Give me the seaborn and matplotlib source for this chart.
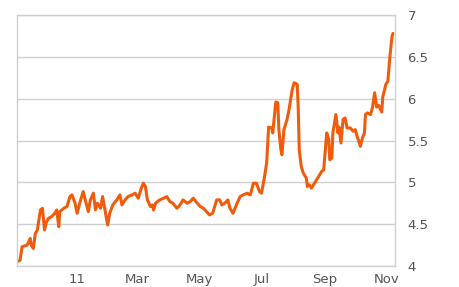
import matplotlib
matplotlib.use("Agg")
import matplotlib.pyplot as plt
import seaborn as sns
import pandas as pd

dates = [
    "2010-11-03", "2010-11-06", "2010-11-08", "2010-11-13", "2010-11-16", "2010-11-17",
    "2010-11-19", "2010-11-21", "2010-11-23", "2010-11-26", "2010-11-28", "2010-11-30",
    "2010-12-02", "2010-12-04", "2010-12-07", "2010-12-10", "2010-12-12", "2010-12-14",
    "2010-12-15", "2010-12-19", "2010-12-22", "2010-12-25", "2010-12-27", "2010-12-30",
    "2011-01-01", "2011-01-04", "2011-01-07", "2011-01-09", "2011-01-12", "2011-01-14",
    "2011-01-17", "2011-01-19", "2011-01-21", "2011-01-24", "2011-01-26", "2011-01-29",
    "2011-01-31", "2011-02-02", "2011-02-05", "2011-02-09", "2011-02-12", "2011-02-14",
    "2011-02-17", "2011-02-20", "2011-02-24", "2011-02-27", "2011-03-02", "2011-03-05",
    "2011-03-07", "2011-03-09", "2011-03-11", "2011-03-14", "2011-03-16", "2011-03-17",
    "2011-03-19", "2011-03-23", "2011-03-27", "2011-03-30", "2011-04-02", "2011-04-05",
    "2011-04-09", "2011-04-12", "2011-04-15", "2011-04-19", "2011-04-22", "2011-04-25",
    "2011-04-29", "2011-05-02", "2011-05-05", "2011-05-08", "2011-05-11", "2011-05-14",
    "2011-05-18", "2011-05-21", "2011-05-23", "2011-05-26", "2011-05-29", "2011-05-31",
    "2011-06-03", "2011-06-07", "2011-06-10", "2011-06-13", "2011-06-17", "2011-06-20",
    "2011-06-23", "2011-06-26", "2011-06-29", "2011-07-01", "2011-07-04", "2011-07-06",
    "2011-07-08", "2011-07-11", "2011-07-12", "2011-07-13", "2011-07-15", "2011-07-17",
    "2011-07-18", "2011-07-20", "2011-07-21", "2011-07-23", "2011-07-26", "2011-07-28",
    "2011-07-31", "2011-08-02", "2011-08-05", "2011-08-06", "2011-08-07", "2011-08-09",
    "2011-08-11", "2011-08-14", "2011-08-15", "2011-08-17", "2011-08-19", "2011-08-22",
    "2011-08-25", "2011-08-29", "2011-08-31", "2011-09-03", "2011-09-05", "2011-09-06",
    "2011-09-08", "2011-09-09", "2011-09-12", "2011-09-14", "2011-09-15", "2011-09-17",
    "2011-09-19", "2011-09-21", "2011-09-23", "2011-09-26", "2011-09-29", "2011-10-01",
    "2011-10-03", "2011-10-04", "2011-10-06", "2011-10-08", "2011-10-10", "2011-10-11",
    "2011-10-13", "2011-10-16", "2011-10-18", "2011-10-20", "2011-10-22", "2011-10-24",
    "2011-10-27", "2011-10-28", "2011-10-31", "2011-11-02", "2011-11-04", "2011-11-06",
    "2011-11-07",
]
yields = [
    4.05, 4.07, 4.23, 4.25, 4.33, 4.25,
    4.21, 4.39, 4.43, 4.67, 4.69, 4.43,
    4.53, 4.57, 4.59, 4.63, 4.67, 4.47,
    4.65, 4.69, 4.71, 4.83, 4.85, 4.75,
    4.63, 4.77, 4.89, 4.79, 4.65, 4.79,
    4.87, 4.67, 4.75, 4.69, 4.83, 4.63,
    4.49, 4.63, 4.73, 4.79, 4.85, 4.73,
    4.79, 4.83, 4.85, 4.87, 4.81, 4.93,
    4.99, 4.95, 4.79, 4.71, 4.73, 4.67,
    4.75, 4.79, 4.81, 4.83, 4.77, 4.75,
    4.69, 4.73, 4.79, 4.75, 4.77, 4.81,
    4.75, 4.71, 4.69, 4.65, 4.61, 4.63,
    4.79, 4.79, 4.73, 4.75, 4.79, 4.69,
    4.63, 4.75, 4.83, 4.85, 4.87, 4.85,
    4.99, 4.99, 4.89, 4.87, 5.07, 5.23,
    5.66, 5.65, 5.59, 5.71, 5.96, 5.95,
    5.63, 5.39, 5.33, 5.63, 5.75, 5.87,
    6.10, 6.19, 6.17, 5.90, 5.39, 5.19,
    5.11, 5.05, 4.95, 4.97, 4.93, 4.99,
    5.05, 5.13, 5.15, 5.59, 5.51, 5.27,
    5.29, 5.59, 5.81, 5.59, 5.66, 5.47,
    5.75, 5.77, 5.65, 5.65, 5.61, 5.63,
    5.54, 5.51, 5.43, 5.53, 5.59, 5.81,
    5.83, 5.81, 5.90, 6.07, 5.90, 5.92,
    5.84, 6.02, 6.17, 6.21, 6.50, 6.74,
    6.78,
]
tick_dates = ["2011-01-01", "2011-03-01", "2011-05-01", "2011-07-01", "2011-09-01", "2011-11-01"]
tick_labels = ["11", "Mar", "May", "Jul", "Sep", "Nov"]
y_ticks = [4, 4.5, 5, 5.5, 6, 6.5, 7]
y_labels = ["4", "4.5", "5", "5.5", "6", "6.5", "7"]

df = pd.DataFrame({"date": pd.to_datetime(dates), "yield": yields})

sns.set_theme(style="white")
plt.rcParams["font.family"] = ["DejaVu Sans"]

fig = plt.figure(figsize=(4.6, 2.87), dpi=100)
ax = fig.add_axes([17 / 460, 21 / 287, 378 / 460, 251 / 287])

sns.lineplot(data=df, x="date", y="yield", ax=ax, color="#F05C0C", linewidth=2.2)

ax.set_xlim(pd.Timestamp("2010-11-03"), pd.Timestamp("2011-11-09"))
ax.set_ylim(4, 7)
ax.set_xlabel("")
ax.set_ylabel("")

ax.set_yticks(y_ticks)
ax.set_yticklabels(y_labels)
ax.yaxis.tick_right()
ax.set_xticks(pd.to_datetime(tick_dates))
ax.set_xticklabels(tick_labels)

ax.grid(axis="y", color="#D0D0D0", linewidth=1.0)
ax.grid(axis="x", visible=False)
for s in ax.spines.values():
    s.set_visible(True)
    s.set_color("#D0D0D0")
    s.set_linewidth(1.0)

ax.tick_params(axis="y", length=0, pad=9, labelsize=9.5, colors="#555555")
ax.tick_params(axis="x", length=3, width=0.8, color="#D8D8D8", pad=2, labelsize=9.5, labelcolor="#555555")

fig.savefig("out.png", dpi=100)
